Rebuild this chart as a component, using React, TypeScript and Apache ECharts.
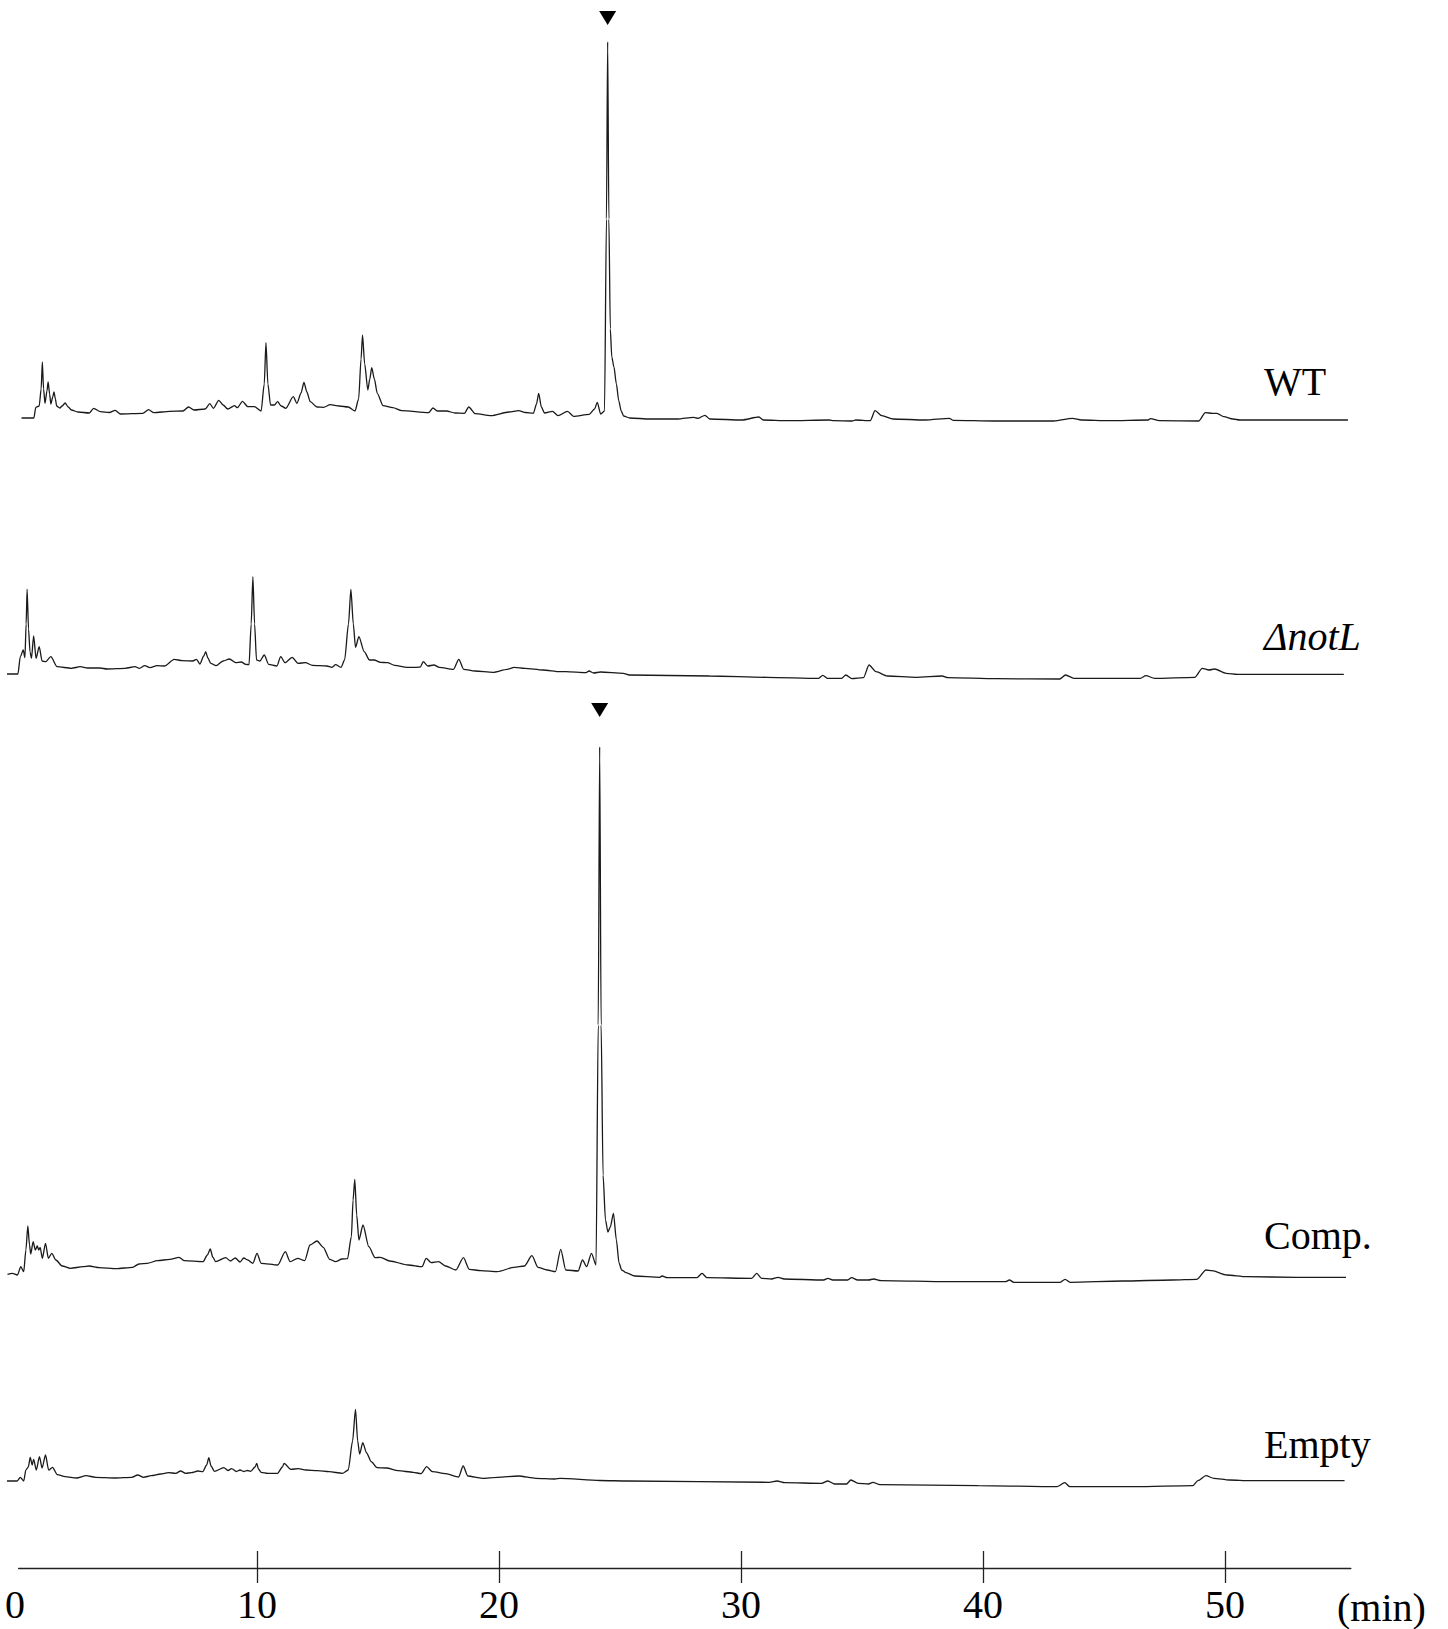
import React, { useEffect, useRef } from "react";
import * as echarts from "echarts";

// Retention time (min) vs. detector response (arbitrary units)
const wtTrace: [number, number][] = [
  [0.27, 1], [0.78, 1], [0.86, 11.7], [1.0, 13], [1.08, 30], [1.13, 57], [1.18, 30], [1.24, 15.7], [1.32, 28], [1.37, 37],
  [1.43, 25], [1.48, 15], [1.56, 22], [1.61, 27], [1.67, 20], [1.72, 13], [1.85, 11], [1.95, 13], [2.07, 16], [2.2, 12],
  [2.33, 9], [2.6, 7], [3.07, 6], [3.25, 10.7], [3.53, 7.3], [3.9, 6.5], [4.14, 8.7], [4.36, 5], [5.28, 5.7], [5.52, 9.3],
  [5.74, 6.3], [6.39, 7.7], [6.94, 8], [7.17, 12], [7.4, 9], [7.86, 10], [8.05, 15.3], [8.2, 10.7], [8.42, 18.7], [8.6, 14],
  [8.79, 10], [9.07, 13.3], [9.19, 11.3], [9.4, 17.7], [9.62, 12.3], [9.89, 12.3], [10.17, 8], [10.3, 35], [10.37, 76.3],
  [10.45, 35], [10.56, 14], [10.72, 14], [10.85, 17.3], [11.0, 13], [11.19, 10.7], [11.5, 22.3], [11.65, 15.7], [11.82, 26],
  [11.94, 36.7], [12.06, 27], [12.2, 17.3], [12.48, 12], [12.75, 11.7], [13.03, 14.3], [13.4, 13], [13.77, 12], [14.05, 8],
  [14.2, 20], [14.3, 60], [14.36, 84], [14.45, 55], [14.58, 29], [14.66, 40], [14.74, 51.3], [14.85, 40], [14.97, 25.7],
  [15.21, 13.3], [15.61, 11.3], [15.98, 8.3], [17.09, 6.3], [17.27, 11], [17.45, 8], [17.83, 8], [18.19, 6], [18.57, 5.7],
  [18.75, 12], [19.02, 5.3], [19.67, 3.3], [20.41, 7], [20.81, 8.3], [21.1, 6.5], [21.42, 5.7], [21.55, 15], [21.64, 25.7],
  [21.75, 12], [21.88, 6], [22.21, 7.7], [22.44, 3.3], [22.83, 7.7], [23.08, 2.7], [23.73, 4.7], [23.95, 10], [24.06, 16.7],
  [24.2, 5], [24.36, 8], [24.44, 200], [24.49, 377], [24.54, 200], [24.6, 90], [24.66, 62], [24.75, 52], [24.85, 35],
  [24.95, 18], [25.05, 8], [25.15, 3], [25.4, 1], [26.24, 0], [27.38, 0], [28.04, 1.7], [28.23, 0.7], [28.51, 3.7],
  [28.71, 0], [30.03, -1], [30.74, 2], [30.92, -1], [31.93, -1.7], [33.64, -1], [33.83, -1.7], [34.59, -2], [34.74, -1],
  [35.34, -1.7], [35.54, 8.3], [35.82, 3.3], [36.29, 0], [37.62, -1], [38.61, 0.7], [38.76, -1.3], [40.47, -2], [42.93, -2],
  [43.69, 0.7], [44.07, -1], [45.21, -1.7], [46.82, -1], [46.92, 0.3], [47.29, -1.7], [48.91, -2], [49.19, 6.3],
  [49.48, 5.7], [49.67, 5.7], [49.95, 2.3], [50.33, 0], [50.62, -1], [55.08, -1],
];

const notLTrace: [number, number][] = [
  [-0.33, 0], [0.12, 0], [0.22, 17.3], [0.34, 24], [0.41, 16.3], [0.46, 50], [0.5, 84.7], [0.56, 45], [0.62, 22],
  [0.68, 15.7], [0.77, 38], [0.87, 15.7], [1.0, 27.3], [1.12, 13], [1.27, 12.3], [1.48, 17.3], [1.74, 7.3], [2.33, 5.7],
  [2.7, 7.3], [3.0, 6], [3.51, 6], [3.81, 5], [4.55, 5.7], [4.96, 7.3], [5.14, 5.7], [5.36, 8.3], [5.58, 6.3], [5.87, 8.3],
  [6.17, 8], [6.58, 14.7], [6.91, 13.3], [7.35, 13], [7.5, 14.7], [7.64, 10], [7.8, 18], [7.88, 22.3], [7.97, 16],
  [8.09, 10.7], [8.31, 8.3], [8.6, 13], [8.86, 15], [9.12, 11.3], [9.35, 12], [9.53, 9.7], [9.67, 9.3], [9.76, 50],
  [9.83, 97.3], [9.9, 50], [9.98, 14], [10.12, 13], [10.3, 19], [10.48, 9.7], [10.82, 8], [10.98, 17.3], [11.16, 11.3],
  [11.45, 16.7], [11.7, 10.7], [12.0, 11.3], [12.29, 8.7], [12.88, 8], [13.1, 6.7], [13.25, 9.3], [13.47, 6.7], [13.62, 14],
  [13.78, 50], [13.88, 84.7], [13.98, 50], [14.07, 26.7], [14.21, 37.3], [14.43, 22.3], [14.65, 14], [14.84, 14],
  [15.1, 11.7], [15.39, 11.3], [15.69, 8.7], [16.2, 6.7], [16.58, 6.7], [16.75, 7], [16.87, 12.3], [17.06, 8], [17.31, 9],
  [17.53, 6.7], [18.12, 4.7], [18.34, 14.7], [18.54, 4.7], [19.01, 3], [19.75, 1.7], [20.34, 4.7], [20.63, 6.7],
  [21.07, 5.7], [21.81, 4], [22.52, 2.3], [22.77, 2.3], [23.6, 1.3], [23.72, 3], [23.91, 1], [24.19, 2], [25.14, 0.7],
  [25.38, -1], [28.7, -2], [31.08, -3.3], [33.21, -4.3], [33.38, -1.3], [33.57, -4.3], [34.16, -4.3], [34.33, -1],
  [34.58, -4.7], [35.06, -3.7], [35.29, 9], [35.58, 2.3], [36.05, -2], [37.24, -3.3], [38.31, -2], [38.55, -3.7],
  [40.56, -4.7], [43.17, -5], [43.41, -1], [43.76, -4.3], [46.5, -4.3], [46.73, -1.7], [47.09, -4.3], [48.75, -3.3],
  [49.06, 5.7], [49.34, 4], [49.57, 5], [50.05, 0.7], [50.52, -0.3], [54.91, -0.3],
];

const compTrace: [number, number][] = [
  [-0.31, 0.7], [-0.11, 1.7], [0.1, 0], [0.24, 8.3], [0.36, 3.3], [0.45, 25], [0.53, 49], [0.6, 30], [0.65, 21],
  [0.75, 33.3], [0.84, 25], [0.92, 29], [0.98, 25], [1.04, 27.7], [1.13, 16.7], [1.26, 31.7], [1.38, 16.7], [1.52, 21.7],
  [1.69, 15], [1.95, 9], [2.29, 6.7], [2.81, 8.3], [3.06, 9], [3.49, 7.3], [4.18, 6.3], [4.86, 7.7], [5.12, 11],
  [5.46, 11.7], [5.89, 14.3], [6.4, 15.7], [6.78, 17.7], [7.0, 14.3], [7.77, 13.3], [7.95, 20], [8.07, 26], [8.17, 18],
  [8.29, 13.3], [8.71, 17.3], [8.9, 14], [9.1, 17], [9.3, 13], [9.45, 17], [9.62, 15], [9.83, 11.7], [10.0, 21.7],
  [10.17, 11.7], [10.86, 10], [11.17, 23.3], [11.37, 13.3], [11.68, 16.7], [11.97, 14.3], [12.19, 30], [12.48, 34],
  [12.74, 27.7], [13.0, 15.7], [13.25, 13.3], [13.51, 16], [13.74, 16.3], [13.9, 38.3], [13.97, 75], [14.04, 95.7],
  [14.12, 60], [14.21, 35], [14.38, 50], [14.62, 28.3], [14.88, 17.3], [15.1, 17.7], [15.48, 14], [16.25, 10],
  [16.82, 8.3], [16.99, 16.7], [17.2, 12.3], [17.5, 13.3], [17.79, 9], [18.22, 5], [18.53, 17.3], [18.77, 5.7],
  [19.25, 4.3], [19.93, 3.3], [20.62, 7.7], [21.05, 9], [21.36, 19.3], [21.61, 7.7], [21.99, 5], [22.33, 3.3],
  [22.55, 25.7], [22.76, 5], [23.27, 4], [23.45, 15], [23.62, 8.3], [23.82, 21.7], [24.01, 10], [24.1, 250], [24.16, 528],
  [24.22, 250], [24.3, 100], [24.4, 55], [24.5, 43], [24.6, 48], [24.73, 61.7], [24.85, 35], [24.96, 12], [25.07, 5],
  [25.25, 2.3], [25.61, -1], [26.64, -2.3], [26.74, -1], [26.95, -2.7], [28.18, -2.7], [28.39, 1.7], [28.59, -2.7],
  [30.44, -3.3], [30.65, 1.7], [30.85, -3.3], [31.26, -4], [31.53, -2.3], [31.78, -4], [33.42, -5], [33.59, -3.3],
  [33.79, -5], [34.41, -5], [34.57, -2.7], [34.82, -5], [35.27, -5], [35.48, -4], [35.79, -5.7], [38.56, -6.7],
  [40.93, -6.7], [41.09, -5], [41.27, -7.3], [43.19, -7.3], [43.39, -4.3], [43.6, -7.3], [45.76, -6], [47.81, -5],
  [48.84, -4.3], [49.21, 5], [49.46, 4.3], [50.07, 0], [50.89, -1.7], [52.95, -2.3], [55.0, -2.3],
];

const emptyTrace: [number, number][] = [
  [-0.33, 0], [0.09, 0], [0.22, 3.7], [0.36, 0], [0.45, 11], [0.55, 14], [0.63, 23.7], [0.71, 16], [0.77, 21.7],
  [0.88, 11], [1.01, 24.3], [1.12, 13], [1.26, 26], [1.39, 11], [1.55, 13.7], [1.75, 6.3], [2.07, 4.3], [2.54, 3],
  [2.94, 5.3], [3.33, 3.7], [4.12, 3], [4.83, 3.7], [5.07, 6], [5.31, 3.7], [5.63, 5.3], [6.02, 7], [6.34, 8.3],
  [6.65, 7.7], [6.84, 10], [7.05, 7.7], [7.29, 8.3], [7.56, 10], [7.76, 9.3], [7.92, 16], [8.01, 23.3], [8.1, 15],
  [8.24, 9.7], [8.63, 13.3], [8.8, 10.5], [8.95, 12.3], [9.15, 9.5], [9.3, 11], [9.45, 9.5], [9.6, 10.5], [9.74, 9.7],
  [9.92, 14], [9.99, 17.7], [10.06, 12], [10.17, 8.7], [10.45, 7.7], [10.85, 7.7], [11.05, 14], [11.12, 17.7],
  [11.4, 11.7], [11.71, 12.3], [12.03, 11], [12.5, 10.3], [12.98, 9.3], [13.53, 7.7], [13.77, 11], [13.95, 40],
  [14.07, 71.7], [14.16, 40], [14.24, 27], [14.37, 38.3], [14.53, 28], [14.72, 19.3], [14.96, 13.3], [15.35, 13],
  [15.83, 10.3], [16.46, 8.7], [16.78, 7.3], [17.01, 14.3], [17.25, 9.3], [17.8, 7.3], [18.33, 4], [18.52, 15], [18.71, 5],
  [19.31, 2.7], [19.94, 3.7], [20.81, 5], [21.52, 2.7], [22.31, 2], [22.52, 2.7], [24.17, 0.5], [25.33, 0], [31.17, -1.3],
  [31.49, 0], [31.81, -1.7], [33.33, -2.3], [33.59, 0], [33.87, -3], [34.36, -3], [34.54, 1], [34.84, -2.3], [35.27, -3],
  [35.45, -1.3], [35.74, -3.7], [39.81, -4.7], [43.05, -5.7], [43.38, -1.7], [43.59, -5.7], [46.29, -5.7], [48.67, -4.7],
  [48.88, 0.3], [49.21, 5.3], [49.54, 2.7], [50.18, 1], [51.04, 0.3], [54.94, 0.3],
];

const traceNames = ["WT", "ΔnotL", "Comp.", "Empty"];
const traceItalic = [false, true, false, false];
const tickValues = [10, 20, 30, 40, 50];
const tickLabelValues = [0, 10, 20, 30, 40, 50];
const axisUnit = "(min)";
// Marked product peak: [trace index, retention time, peak height]
const markedPeaks: [number, number, number][] = [
  [0, 24.49, 377],
  [2, 24.16, 528],
];

// Layout (pixels)
const W = 1448;
const H = 1629;
const X0 = 15; // pixel of t = 0
const PX_PER_MIN = 24.2;
const T_MIN = -0.5;
const T_MAX = 55.2;
const AXIS_START = 0.15;
const Y_MIN = -10;
const baselines = [419, 674, 1275, 1481];
const yMaxes = [385, 110, 540, 80];
const labelY = [381, 636, 1235, 1444];
const arrowOffsets = [-24, -37];
const AXIS_Y = 1568;
const FONT = '"Liberation Serif", "Times New Roman", Times, serif';

export default function App() {
  const ref = useRef<HTMLDivElement>(null);
  useEffect(() => {
    if (!ref.current) return;
    const chart = echarts.init(ref.current, undefined, { renderer: "svg" });
    const traces = [wtTrace, notLTrace, compTrace, emptyTrace];
    const traceLeft = X0 + PX_PER_MIN * T_MIN;
    const traceWidth = PX_PER_MIN * (T_MAX - T_MIN);

    const grids: any[] = traces.map((_, i) => ({
      left: traceLeft,
      width: traceWidth,
      top: baselines[i] - yMaxes[i],
      height: yMaxes[i] - Y_MIN,
      containLabel: false,
      outerBoundsMode: "none",
    }));
    grids.push({
      left: X0,
      width: PX_PER_MIN * T_MAX,
      top: AXIS_Y - 60,
      height: 60,
      containLabel: false,
      outerBoundsMode: "none",
    });
    // grid carrying only the axis line, starting slightly right of t = 0 as in the figure
    grids.push({
      left: X0 + PX_PER_MIN * AXIS_START,
      width: PX_PER_MIN * (T_MAX - AXIS_START),
      top: AXIS_Y - 60,
      height: 60,
      containLabel: false,
      outerBoundsMode: "none",
    });

    const xAxes: any[] = traces.map((_, i) => ({
      type: "value",
      gridIndex: i,
      min: T_MIN,
      max: T_MAX,
      show: false,
    }));
    xAxes.push({
      type: "value",
      gridIndex: 4,
      min: 0,
      max: T_MAX,
      position: "bottom",
      axisLine: { show: false },
      axisTick: { show: true, inside: false, length: 15, customValues: tickValues, lineStyle: { color: "#222", width: 1.3 } },
      axisLabel: {
        show: true,
        customValues: tickLabelValues,
        fontSize: 40,
        fontFamily: FONT,
        color: "#000",
        margin: 16,
      },
      splitLine: { show: false },
    });
    xAxes.push({
      type: "value",
      gridIndex: 4,
      min: 0,
      max: T_MAX,
      position: "bottom",
      offset: 0,
      axisLine: { show: false },
      axisTick: { show: true, inside: true, length: 17, customValues: tickValues, lineStyle: { color: "#222", width: 1.3 } },
      axisLabel: { show: false },
      splitLine: { show: false },
    });
    xAxes.push({
      type: "value",
      gridIndex: 5,
      min: AXIS_START,
      max: T_MAX,
      position: "bottom",
      axisLine: { show: true, lineStyle: { color: "#222", width: 1.3 } },
      axisTick: { show: false },
      axisLabel: { show: false },
      splitLine: { show: false },
    });

    const yAxes: any[] = traces.map((_, i) => ({
      type: "value",
      gridIndex: i,
      min: Y_MIN,
      max: yMaxes[i],
      show: false,
    }));
    yAxes.push({ type: "value", gridIndex: 4, show: false, min: 0, max: 1 });
    yAxes.push({ type: "value", gridIndex: 5, show: false, min: 0, max: 1 });

    const series: any[] = traces.map((data, i) => {
      const marks = markedPeaks
        .map((m, k) => ({ m, k }))
        .filter(({ m }) => m[0] === i)
        .map(({ m, k }) => ({
          coord: [m[1], m[2]],
          symbol: "triangle",
          symbolRotate: 180,
          symbolSize: [17, 14],
          symbolOffset: [0, arrowOffsets[k]],
          itemStyle: { color: "#000" },
          label: { show: false },
        }));
      return {
        type: "line",
        name: traceNames[i],
        xAxisIndex: i,
        yAxisIndex: i,
        data,
        showSymbol: false,
        symbol: "none",
        smooth: 0.25,
        smoothMonotone: "x",
        silent: true,
        lineStyle: { color: "#1a1a1a", width: 1.3 },
        markPoint: marks.length ? { silent: true, data: marks, label: { show: false } } : undefined,
      };
    });

    const graphics: any[] = traceNames.map((name, i) => ({
      type: "text",
      x: 1264,
      y: labelY[i],
      style: {
        text: name,
        fontSize: 40,
        fontFamily: FONT,
        fontStyle: traceItalic[i] ? "italic" : "normal",
        fill: "#000",
        align: "left",
        verticalAlign: "middle",
        textAlign: "left",
        textVerticalAlign: "middle",
      },
    }));
    graphics.push({
      type: "text",
      x: 1337,
      y: AXIS_Y + 39,
      style: {
        text: axisUnit,
        fontSize: 40,
        fontFamily: FONT,
        fill: "#000",
        align: "left",
        verticalAlign: "middle",
        textAlign: "left",
        textVerticalAlign: "middle",
      },
    });

    chart.setOption({
      animation: false,
      backgroundColor: "#fff",
      grid: grids,
      xAxis: xAxes,
      yAxis: yAxes,
      series,
      graphic: graphics,
    });
    return () => chart.dispose();
  }, []);
  return (
    <div
      ref={ref}
      style={{ position: "absolute", left: 0, top: 0, width: W, height: H, background: "#fff" }}
    />
  );
}
